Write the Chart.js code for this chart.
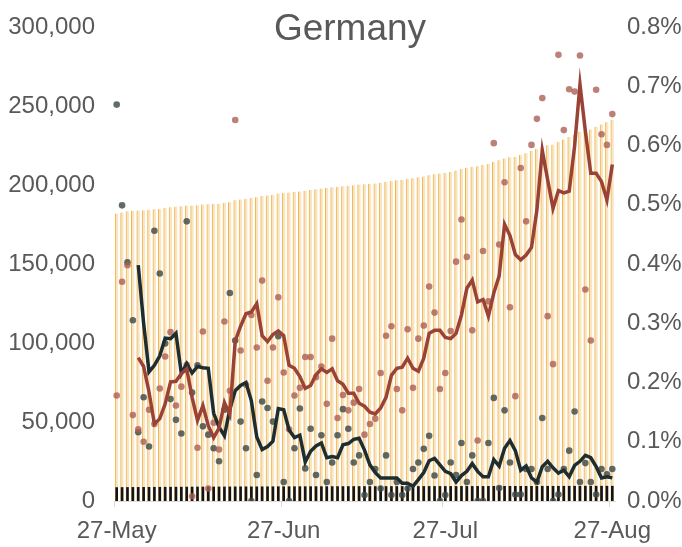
<!DOCTYPE html>
<html>
<head>
<meta charset="utf-8">
<script src="https://cdn.jsdelivr.net/npm/chart.js@4/dist/chart.umd.min.js"></script>
<style>
html,body{margin:0;padding:0;background:#ffffff;}
#wrap{position:relative;width:682px;height:547px;overflow:hidden;}
canvas{display:block;}
</style>
</head>
<body>
<div id="wrap"><canvas id="c" width="682" height="547"></canvas></div>
<script>
const chartTitle = 'Germany';

const dates = [
'27-May','28-May','29-May','30-May','31-May',
'1-Jun','2-Jun','3-Jun','4-Jun','5-Jun','6-Jun','7-Jun','8-Jun','9-Jun','10-Jun',
'11-Jun','12-Jun','13-Jun','14-Jun','15-Jun','16-Jun','17-Jun','18-Jun','19-Jun','20-Jun',
'21-Jun','22-Jun','23-Jun','24-Jun','25-Jun','26-Jun','27-Jun','28-Jun','29-Jun','30-Jun',
'1-Jul','2-Jul','3-Jul','4-Jul','5-Jul','6-Jul','7-Jul','8-Jul','9-Jul','10-Jul',
'11-Jul','12-Jul','13-Jul','14-Jul','15-Jul','16-Jul','17-Jul','18-Jul','19-Jul','20-Jul',
'21-Jul','22-Jul','23-Jul','24-Jul','25-Jul','26-Jul','27-Jul','28-Jul','29-Jul','30-Jul','31-Jul',
'1-Aug','2-Aug','3-Aug','4-Aug','5-Aug','6-Aug','7-Aug','8-Aug','9-Aug','10-Aug',
'11-Aug','12-Aug','13-Aug','14-Aug','15-Aug','16-Aug','17-Aug','18-Aug','19-Aug','20-Aug',
'21-Aug','22-Aug','23-Aug','24-Aug','25-Aug','26-Aug','27-Aug'
];

const shownDates = ['27-May','27-Jun','27-Jul','27-Aug'];

// cumulative confirmed cases (left axis)
const totalCases = [
182000,182670,183400,183670,183890,184070,184350,184590,184940,185390,
185920,186220,186580,187010,187020,187190,187730,187770,188020,188180,
188750,189100,190320,190800,191170,191770,192270,192990,193380,193880,
194550,194970,195210,195560,195930,196410,196890,197300,197750,198070,
198610,198890,199250,199550,199880,200260,200480,200740,201020,201450,
202010,202610,202990,203300,203890,204280,204840,205450,206190,206850,
207240,207690,208280,209120,210120,210980,211590,211810,212700,213420,
214710,215640,216800,217510,217890,219120,220150,221470,222900,224420,
225120,225640,227340,228760,230350,231940,233690,234520,235160,236790,
238260,239690,241250
];

// cumulative deaths (left axis)
const totalDeaths = [
8500,8546,8583,8611,8621,8636,8644,8683,8716,8739,
8754,8766,8776,8817,8833,8853,8864,8874,8882,8888,
8902,8933,8957,8969,8977,8977,8981,8996,9010,9022,
9047,9050,9050,9058,9072,9077,9088,9092,9102,9105,
9111,9121,9135,9146,9152,9159,9160,9163,9168,9170,
9177,9178,9181,9182,9184,9189,9195,9203,9213,9217,
9217,9218,9224,9228,9237,9240,9247,9247,9247,9256,
9272,9274,9288,9294,9295,9296,9301,9306,9309,9322,
9327,9327,9328,9333,9341,9355,9358,9364,9367,9368,
9373,9377,9382
];

// daily growth of cases, % (right axis)
const casesGrowth = [
0.178,0.370,0.398,0.145,0.121,0.100,0.154,0.130,0.190,0.244,
0.285,0.161,0.193,0.230,0.008,0.090,0.286,0.021,0.132,0.087,
0.303,0.186,0.643,0.254,0.196,0.314,0.259,0.372,0.203,0.259,
0.344,0.217,0.121,0.178,0.191,0.243,0.243,0.209,0.227,0.164,
0.274,0.140,0.179,0.153,0.166,0.189,0.112,0.130,0.139,0.216,
0.279,0.295,0.189,0.153,0.290,0.191,0.274,0.296,0.362,0.318,
0.189,0.216,0.287,0.404,0.475,0.412,0.288,0.102,0.422,0.337,
0.604,0.433,0.538,0.327,0.177,0.562,0.472,0.601,0.645,0.680,
0.312,0.231,0.753,0.626,0.695,0.691,0.752,0.357,0.271,0.694,
0.619,0.601,0.653
];

// smoothed growth of cases, % (right axis)
const casesGrowthAvg = [
null,null,null,null,0.242,0.227,0.184,0.130,0.139,0.164,
0.201,0.202,0.215,0.223,0.175,0.136,0.161,0.127,0.107,0.123,
0.166,0.146,0.270,0.295,0.316,0.319,0.333,0.279,0.269,0.281,
0.287,0.279,0.229,0.224,0.210,0.190,0.195,0.213,0.223,0.217,
0.223,0.203,0.197,0.182,0.182,0.165,0.160,0.150,0.147,0.157,
0.175,0.212,0.224,0.226,0.241,0.224,0.219,0.241,0.283,0.288,
0.288,0.276,0.274,0.283,0.314,0.359,0.373,0.336,0.340,0.312,
0.351,0.380,0.467,0.448,0.416,0.407,0.415,0.428,0.491,0.592,
0.542,0.494,0.524,0.520,0.523,0.599,0.703,0.624,0.553,0.553,
0.539,0.508,0.568
];

// daily growth of deaths, % (right axis)
const deathsGrowth = [
0.669,0.499,0.403,0.305,0.116,0.175,0.092,0.456,0.384,0.266,
0.172,0.137,0.114,0.472,0.183,0.229,0.126,0.112,0.089,0.067,
0.154,0.351,0.271,0.134,0.089,0.000,0.044,0.168,0.157,0.134,
0.278,0.032,0.000,0.089,0.156,0.055,0.122,0.044,0.111,0.032,
0.065,0.111,0.155,0.122,0.065,0.077,0.010,0.032,0.054,0.021,
0.077,0.010,0.032,0.010,0.021,0.054,0.065,0.088,0.110,0.043,
0.000,0.010,0.065,0.044,0.098,0.032,0.077,0.000,0.000,0.098,
0.174,0.022,0.153,0.065,0.011,0.011,0.054,0.054,0.032,0.140,
0.054,0.000,0.011,0.054,0.085,0.151,0.032,0.064,0.032,0.011,
0.054,0.045,0.054
];

// smoothed growth of deaths, % (right axis)
const deathsGrowthAvg = [
null,null,null,null,0.398,0.300,0.218,0.229,0.245,0.275,
0.274,0.283,0.215,0.232,0.216,0.227,0.225,0.224,0.148,0.125,
0.110,0.155,0.186,0.195,0.200,0.169,0.108,0.087,0.092,0.101,
0.156,0.154,0.120,0.107,0.111,0.066,0.084,0.093,0.098,0.073,
0.075,0.073,0.095,0.097,0.104,0.106,0.086,0.061,0.048,0.039,
0.039,0.039,0.039,0.030,0.030,0.025,0.036,0.048,0.068,0.072,
0.061,0.050,0.046,0.032,0.043,0.050,0.063,0.050,0.041,0.041,
0.070,0.059,0.089,0.102,0.085,0.052,0.059,0.039,0.032,0.058,
0.067,0.056,0.047,0.052,0.041,0.060,0.067,0.077,0.073,0.058,
0.039,0.041,0.039
];

const FONT = '"Liberation Sans", Arial, sans-serif';
const TEXT = '#595959';

const titlePlugin = {
  id: 'centerTitle',
  afterDraw(chart) {
    const c = chart.ctx;
    c.save();
    c.font = '37px ' + FONT;
    c.fillStyle = TEXT;
    c.textAlign = 'center';
    c.textBaseline = 'middle';
    c.fillText(chartTitle, 350, 30);
    c.restore();
  }
};

function fitY(width) {
  return (s) => { s.width = width; s.paddingTop = 0; s.paddingBottom = 0; };
}

new Chart(document.getElementById('c'), {
  type: 'bar',
  data: {
    labels: dates,
    datasets: [
      { type: 'line', label: 'Cases growth (avg)', data: casesGrowthAvg, yAxisID: 'y1',
        borderColor: '#9b4236', borderWidth: 3.5, pointRadius: 0, tension: 0, fill: false, order: 0 },
      { type: 'line', label: 'Deaths growth (avg)', data: deathsGrowthAvg, yAxisID: 'y1',
        borderColor: '#1e2e30', borderWidth: 3.5, pointRadius: 0, tension: 0, fill: false, order: 1 },
      { type: 'line', label: 'Cases growth', data: casesGrowth, yAxisID: 'y1', showLine: false,
        pointRadius: 3.3, pointBackgroundColor: 'rgba(170,92,82,0.78)', pointBorderWidth: 0, order: 2 },
      { type: 'line', label: 'Deaths growth', data: deathsGrowth, yAxisID: 'y1', showLine: false,
        pointRadius: 3.3, pointBackgroundColor: 'rgba(62,74,72,0.82)', pointBorderWidth: 0, order: 3 },
      { type: 'bar', label: 'Deaths', data: totalDeaths, yAxisID: 'y', grouped: false,
        backgroundColor: '#141414', barThickness: 2, order: 4 },
      { type: 'bar', label: 'Cases', data: totalCases, yAxisID: 'y', grouped: false,
        backgroundColor: '#f9e5c2', borderColor: '#efb54e',
        borderWidth: { left: 1, right: 0, top: 0, bottom: 0 }, borderSkipped: false,
        barThickness: 3, order: 5 }
    ]
  },
  options: {
    responsive: false,
    animation: false,
    devicePixelRatio: 1,
    layout: { padding: { top: 27, left: 0, right: 0, bottom: 0 } },
    plugins: { legend: { display: false }, tooltip: { enabled: false }, title: { display: false } },
    scales: {
      x: {
        offset: true,
        grid: {
          display: true, drawOnChartArea: false, drawTicks: true, tickLength: 6, offset: true,
          color: (ctx) => (ctx.index !== undefined && shownDates.includes(dates[ctx.index])) ? '#d9d9d9' : 'rgba(0,0,0,0)'
        },
        border: { display: true, color: '#d9d9d9', width: 1 },
        ticks: {
          autoSkip: false, maxRotation: 0, minRotation: 0, padding: 10,
          font: { family: FONT, size: 24 }, color: TEXT,
          callback: (v, i) => shownDates.includes(dates[i]) ? dates[i] : ''
        },
        afterFit: (s) => { s.height = 46; s.paddingLeft = 0; s.paddingRight = 0; }
      },
      y: {
        position: 'left', min: 0, max: 300000,
        grid: { display: false, drawTicks: false },
        border: { display: false },
        ticks: {
          stepSize: 50000, padding: 19,
          font: { family: FONT, size: 24 }, color: TEXT,
          callback: (v) => v.toLocaleString('en-US')
        },
        afterFit: fitY(114)
      },
      y1: {
        position: 'right', min: 0, max: 0.8,
        grid: { display: false, drawTicks: false },
        border: { display: false },
        ticks: {
          stepSize: 0.1, padding: 12,
          font: { family: FONT, size: 24 }, color: TEXT,
          callback: (v) => v.toFixed(1) + '%'
        },
        afterFit: fitY(67)
      }
    }
  },
  plugins: [titlePlugin]
});
</script>
</body>
</html>
